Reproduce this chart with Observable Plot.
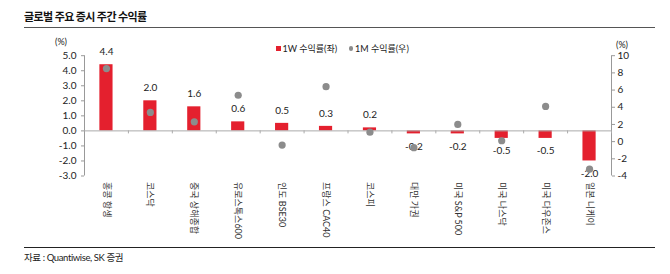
<!DOCTYPE html>
<html><head><meta charset="utf-8">
<script src="https://cdn.jsdelivr.net/npm/d3@7"></script>
<script src="https://cdn.jsdelivr.net/npm/@observablehq/plot@0.6"></script>
<style>
body{margin:0;background:#fff;font-family:Lato,"Noto Sans CJK KR",sans-serif;color:#222;}
#wrap{position:relative;width:670px;height:274px;overflow:hidden;}
.t{position:absolute;line-height:1;white-space:nowrap;}
#title{left:24px;top:11px;font-size:11px;font-weight:bold;letter-spacing:-0.6px;color:#111;}
#rule1{position:absolute;left:24px;top:26.5px;width:631px;border-top:1.5px solid #555;}
#chart{position:absolute;left:0;top:28px;}
#rule2{position:absolute;left:24px;top:246.5px;width:631px;border-top:1.3px solid #222;}
#caption{left:24px;top:253px;font-size:9.5px;letter-spacing:-0.4px;}
.leg{font-size:9px;top:43.5px;}
.sq{position:absolute;left:276px;top:45.8px;width:5px;height:5px;background:#e4202e;}
.dt{position:absolute;left:348.5px;top:46px;width:4.5px;height:4.5px;border-radius:50%;background:#8c8c8c;}
.unit{font-size:9px;}
</style></head>
<body><div id="wrap">
<div id="title" class="t">글로벌 주요 증시 주간 수익률</div>
<div id="rule1"></div>
<div id="chart"></div>
<div class="t unit" style="left:55px;top:37px;">(%)</div>
<div class="t unit" style="left:616px;top:39.5px;">(%)</div>
<div class="sq"></div><div class="t leg" style="left:282.5px;">1W 수익률(좌)</div>
<div class="dt"></div><div class="t leg" style="left:355px;">1M 수익률(우)</div>
<div id="rule2"></div>
<div id="caption" class="t">자료 : Quantiwise, SK 증권</div>
</div>
<script>
const categories = ["홍콩 항셍","코스닥","중국 상해종합","유로스톡스600","인도 BSE30","프랑스 CAC40","코스피","대만 가권","미국 S&P 500","미국 나스닥","미국 다우존스","일본 니케이"];
const weekly = [4.4,2.0,1.6,0.6,0.5,0.3,0.2,-0.2,-0.2,-0.5,-0.5,-2.0];
const monthly = [8.5,3.4,2.3,5.4,-0.4,6.4,1.1,-0.7,2.0,0.1,4.1,-3.2];
const leftTicks = [-3,-2,-1,0,1,2,3,4,5];
const rightTicks = [-4,-2,0,2,4,6,8,10];

const W = 670, H = 219, mL = 84, mR = 59, mT = 27.2, mB = 71.5;
const step = (W - mL - mR) / categories.length;
const toLeft = d3.scaleLinear([-4, 10], [-3, 5]);
const data = categories.map((c, i) => ({c, w: weekly[i], m: toLeft(monthly[i])}));
const tickLen = 3 * 8 / (H - mT - mB);
const font = 'Lato,"Noto Sans CJK KR",sans-serif';

const chart = Plot.plot({
  width: W, height: H, marginTop: mT, marginBottom: mB, marginLeft: mL, marginRight: mR,
  style: {fontFamily: font, fontSize: "9.5px", color: "#222", background: "transparent", overflow: "visible"},
  x: {domain: categories, paddingInner: 0.7, paddingOuter: 0.35, round: false},
  y: {domain: [-3, 5]},
  marks: [
    Plot.axisY(leftTicks, {anchor: "left", tickSize: 3, tickPadding: 5, stroke: "#999", tickFormat: d => d.toFixed(1), label: null, fontSize: 10}),
    Plot.axisY(rightTicks.map(toLeft), {anchor: "right", tickSize: 3, tickPadding: 3, stroke: "#999", tickFormat: d => String(Math.round(toLeft.invert(d))), label: null, fontSize: 10}),
    Plot.axisX({anchor: "bottom", tickSize: 0, tickPadding: 6, tickRotate: 90, label: null, fontSize: 9, fill: "#333"}),
    Plot.ruleX([categories[0]], {dx: -step / 2, y1: -3, y2: 5, stroke: "#999"}),
    Plot.ruleX([categories[categories.length - 1]], {dx: step / 2, y1: -3, y2: 5, stroke: "#999"}),
    Plot.ruleX(categories, {dx: step / 2, y1: 0, y2: -tickLen, stroke: "#aaa"}),
    Plot.barY(data, {x: "c", y: "w", fill: "#e4202e"}),
    Plot.ruleY([0], {stroke: "#aaa"}),
    Plot.text(data.filter(d => d.w >= 0), {x: "c", y: "w", text: d => d.w.toFixed(1), dy: -12.7, fontSize: 10, fill: "#222"}),
    Plot.text(data.filter(d => d.w < 0), {x: "c", y: "w", text: d => d.w.toFixed(1), dy: 12.7, fontSize: 10, fill: "#222"}),
    Plot.dot(data, {x: "c", y: "m", r: 3.6, fill: "#8c8c8c"})
  ]
});
document.getElementById("chart").appendChild(chart);
</script>
</body></html>
